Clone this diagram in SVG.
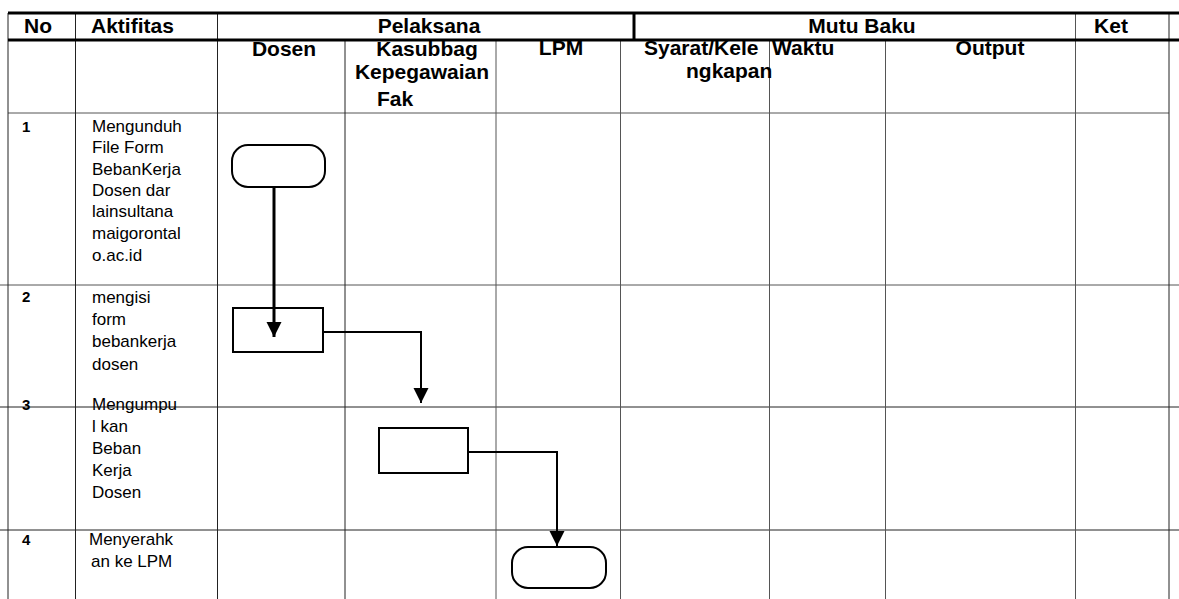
<svg xmlns="http://www.w3.org/2000/svg" width="1179" height="599" viewBox="0 0 1179 599">
<defs>
<style>
.bg{fill:#fff}
.thin{stroke:#555;stroke-width:1;fill:none}
.dark{stroke:#222;stroke-width:1;fill:none}
.thick{stroke:#000;stroke-width:3;fill:none}
.h{font-family:"Liberation Sans",Arial,sans-serif;font-weight:bold;font-size:21px;fill:#000}
.num{font-family:"Liberation Sans",Arial,sans-serif;font-weight:bold;font-size:15px;fill:#000}
.t{font-family:"Liberation Sans",Arial,sans-serif;font-size:17px;fill:#000}
.shape{fill:#fff;stroke:#000;stroke-width:2}
.conn{stroke:#000;fill:none}
</style>
<marker id="arr" markerUnits="userSpaceOnUse" markerWidth="16" markerHeight="16" refX="15" refY="7.5" orient="auto">
<path d="M0,0 L15,7.5 L0,15 z" fill="#000"/>
</marker>
</defs>
<rect class="bg" x="0" y="0" width="1179" height="599"/>
<g id="grid">
<line class="thin" x1="8" y1="113" x2="1169" y2="113"/>
<line class="thin" x1="0" y1="285" x2="1179" y2="285"/>
<line class="dark" x1="0" y1="407" x2="1179" y2="407"/>
<line class="dark" x1="0" y1="530" x2="1179" y2="530"/>
<line class="dark" x1="8" y1="13" x2="8" y2="599"/>
<line class="dark" x1="75.5" y1="13" x2="75.5" y2="599"/>
<line class="dark" x1="217.5" y1="13" x2="217.5" y2="599"/>
<line class="dark" x1="1169" y1="13" x2="1169" y2="599"/>
<line class="thin" x1="1075.5" y1="13" x2="1075.5" y2="599"/>
<line class="dark" x1="345" y1="40" x2="345" y2="599"/>
<line class="thin" x1="496" y1="40" x2="496" y2="599"/>
<line class="thin" x1="620.5" y1="40" x2="620.5" y2="599"/>
<line class="thin" x1="769.5" y1="40" x2="769.5" y2="599"/>
<line class="thin" x1="885.5" y1="40" x2="885.5" y2="599"/>
<line class="thick" x1="8" y1="13" x2="1179" y2="13"/>
<line class="thick" x1="8" y1="40" x2="1179" y2="40"/>
<line class="thick" x1="634" y1="13" x2="634" y2="40"/>
</g>
<g id="header">
<text class="h" x="24" y="33">No</text>
<text class="h" x="91" y="33">Aktifitas</text>
<text class="h" x="429" y="33" text-anchor="middle">Pelaksana</text>
<text class="h" x="862" y="33" text-anchor="middle">Mutu Baku</text>
<text class="h" x="1111" y="33" text-anchor="middle">Ket</text>
<text class="h" x="284" y="56" text-anchor="middle">Dosen</text>
<text class="h" x="427" y="56" text-anchor="middle">Kasubbag</text>
<text class="h" x="422" y="79" text-anchor="middle">Kepegawaian</text>
<text class="h" x="395" y="106" text-anchor="middle">Fak</text>
<text class="h" x="561" y="55" text-anchor="middle">LPM</text>
<text class="h" x="644" y="55">Syarat/Kele</text>
<text class="h" x="686" y="78">ngkapan</text>
<text class="h" x="772" y="55">Waktu</text>
<text class="h" x="990" y="55" text-anchor="middle">Output</text>
</g>
<g id="row1">
<text class="num" x="22" y="132">1</text>
<text class="t"><tspan x="92" y="132">Mengunduh</tspan><tspan x="92" y="153">File Form</tspan><tspan x="92" y="175">BebanKerja</tspan><tspan x="92" y="196">Dosen dar</tspan><tspan x="92" y="217">lainsultana</tspan><tspan x="92" y="239">maigorontal</tspan><tspan x="92" y="261">o.ac.id</tspan></text>
</g>
<g id="row2">
<text class="num" x="22" y="302">2</text>
<text class="t"><tspan x="92" y="303">mengisi</tspan><tspan x="92" y="325">form</tspan><tspan x="92" y="347">bebankerja</tspan><tspan x="92" y="370">dosen</tspan></text>
</g>
<g id="row3">
<text class="num" x="22" y="410">3</text>
<text class="t"><tspan x="92" y="410">Mengumpu</tspan><tspan x="92" y="432">l kan</tspan><tspan x="92" y="454">Beban</tspan><tspan x="92" y="476">Kerja</tspan><tspan x="92" y="498">Dosen</tspan></text>
</g>
<g id="row4">
<text class="num" x="22" y="545">4</text>
<text class="t"><tspan x="89" y="545">Menyerahk</tspan><tspan x="91" y="567">an ke LPM</tspan></text>
</g>
<g id="node-start">
<rect class="shape" x="232" y="145" width="93" height="42" rx="16" ry="16"/>
</g>
<g id="node-isi">
<rect class="shape" x="233" y="308" width="90" height="44"/>
</g>
<g id="node-kumpul">
<rect class="shape" x="379" y="428" width="89" height="45"/>
</g>
<g id="node-end">
<rect class="shape" x="512" y="547" width="94" height="41" rx="16" ry="16"/>
</g>
<g id="connectors">
<line class="conn" stroke-width="3" x1="274" y1="187" x2="274" y2="337" marker-end="url(#arr)"/>
<polyline class="conn" stroke-width="2" points="323,332 421,332 421,403" marker-end="url(#arr)"/>
<polyline class="conn" stroke-width="2" points="468,452 557,452 557,546" marker-end="url(#arr)"/>
</g>
</svg>
